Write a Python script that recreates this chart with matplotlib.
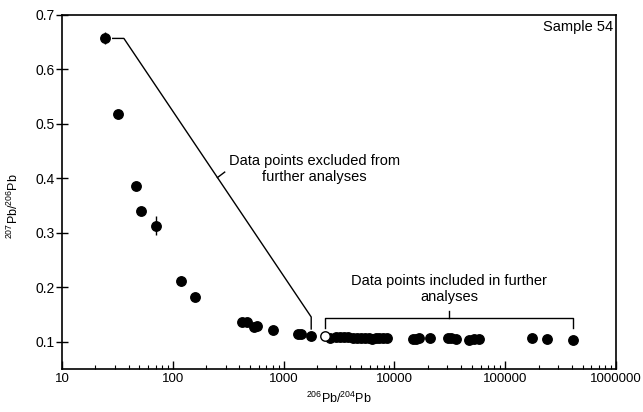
import numpy as np
import matplotlib
matplotlib.use('Agg')
import matplotlib.pyplot as plt
from matplotlib.ticker import LogLocator, FuncFormatter, NullFormatter

plt.rcParams['font.family'] = ['Liberation Sans', 'DejaVu Sans']
plt.rcParams['mathtext.fontset'] = 'custom'
plt.rcParams['mathtext.rm'] = 'Liberation Sans'

# excluded analyses (206Pb/204Pb, 207Pb/206Pb, 2 sigma)
excl_x = [24.4, 32, 47, 52, 71, 118, 158, 425, 467, 540, 580, 802, 1345, 1443, 1775]
excl_y = [0.657, 0.519, 0.386, 0.340, 0.313, 0.211, 0.182, 0.136, 0.137,
          0.128, 0.129, 0.122, 0.114, 0.114, 0.110]
excl_err = [0.011, 0.005, 0.008, 0.007, 0.017, 0.009, 0.004, 0.003, 0.003,
            0.003, 0.003, 0.003, 0.002, 0.002, 0.002]

# open symbol (first included)
open_x = [2370]
open_y = [0.111]

# included analyses
incl_x = [2600, 3000, 3200, 3500, 3800, 4200, 4600, 5000, 5400, 5900, 6300,
          6800, 7300, 7900, 8500, 14600, 15700, 16800, 21100, 30200, 32400,
          36000, 47400, 52600, 58400, 174000, 237000, 412000]
incl_y = [0.107, 0.109, 0.109, 0.108, 0.108, 0.107, 0.107, 0.107, 0.106,
          0.106, 0.105, 0.106, 0.107, 0.106, 0.106, 0.105, 0.105, 0.106,
          0.107, 0.106, 0.106, 0.105, 0.104, 0.105, 0.105, 0.106, 0.105, 0.103]

fig = plt.figure(figsize=(6.43, 4.12), dpi=100)
ax = fig.add_axes([0.0964, 0.1044, 0.8616, 0.8592])

ax.errorbar(excl_x, excl_y, yerr=excl_err, fmt='o', color='black', ms=6.8,
            elinewidth=1.0, capsize=0)
ax.plot(incl_x, incl_y, 'o', color='black', ms=6.8)
ax.plot(open_x, open_y, 'o', mfc='white', mec='black', ms=6.8, mew=1.0)

ax.set_xscale('log')
ax.set_xlim(10, 1e6)
ax.set_ylim(0.05, 0.7)
ax.set_yticks([0.1, 0.2, 0.3, 0.4, 0.5, 0.6, 0.7])
ax.yaxis.set_major_formatter(FuncFormatter(lambda v, p: '%.1f' % v))
ax.xaxis.set_major_locator(LogLocator(base=10, numticks=10))
ax.xaxis.set_minor_locator(LogLocator(base=10, subs=np.arange(2, 10), numticks=20))
ax.xaxis.set_major_formatter(FuncFormatter(lambda v, p: '%d' % round(v)))
ax.xaxis.set_minor_formatter(NullFormatter())

ax.tick_params(axis='x', which='major', direction='in', length=6, width=1.0,
               labelsize=9.5, pad=3)
ax.tick_params(axis='x', which='minor', direction='in', length=3, width=0.8)
ax.tick_params(axis='y', direction='inout', length=8, width=1.0, labelsize=10,
               pad=1)
for s in ax.spines.values():
    s.set_linewidth(1.2)

ax.set_xlabel(r'$^{206}$Pb/$^{204}$Pb', fontsize=9, labelpad=4)
ax.set_ylabel(r'$^{207}$Pb/$^{206}$Pb', fontsize=9)
ax.yaxis.set_label_coords(-0.074, 0.46)

ax.text(0.995, 0.985, 'Sample 54', transform=ax.transAxes, ha='right',
        va='top', fontsize=10.5)

# bracket: excluded points
lw = 1.0
bx0, bx1 = 28.7, 36.2
ax.plot([bx0, bx1, excl_x[-1], excl_x[-1]], [excl_y[0], excl_y[0], 0.1455, 0.1235],
        color='black', lw=lw)
ax.plot([253, 294], [0.4015, 0.4115], color='black', lw=lw)
ax.text(1900, 0.417, 'Data points excluded from\nfurther analyses', ha='center',
        va='center', fontsize=10.5, linespacing=1.2)

# bracket: included points
top = 0.1436
ax.plot([open_x[0], open_x[0], incl_x[-1], incl_x[-1]], [0.1253, top, top, 0.1253],
        color='black', lw=lw)
cx = np.sqrt(open_x[0] * incl_x[-1])
ax.plot([cx, cx], [top, 0.157], color='black', lw=lw)
ax.text(cx, 0.197, 'Data points included in further\nanalyses', ha='center',
        va='center', fontsize=10.5, linespacing=1.2)

fig.savefig('out.png', dpi=100)
